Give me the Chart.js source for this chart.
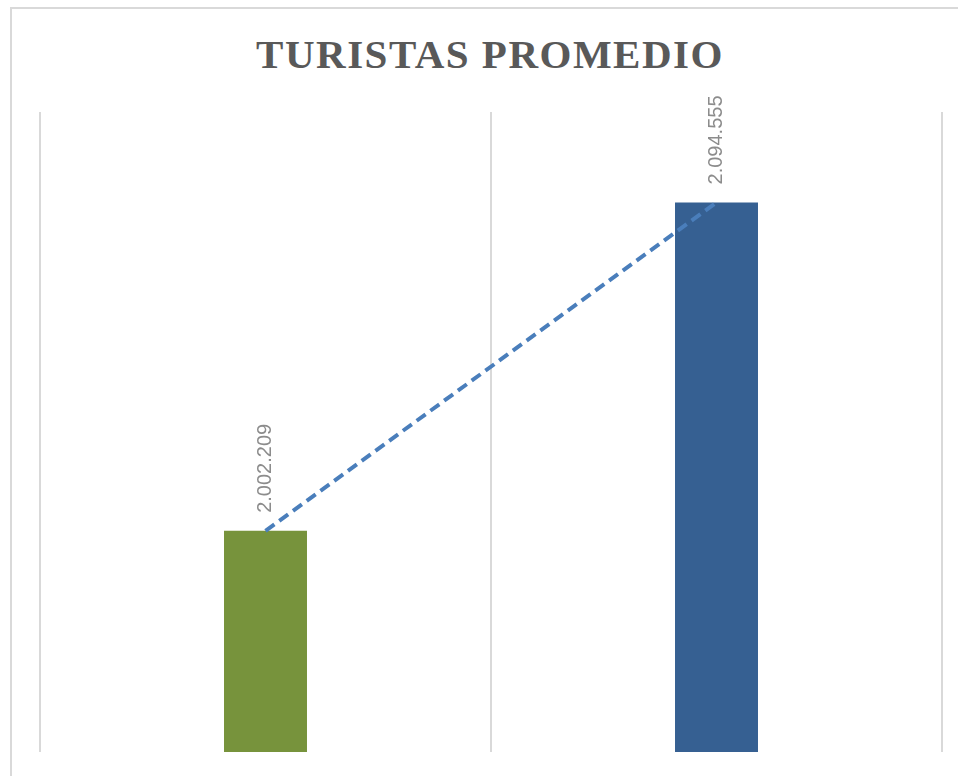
<!DOCTYPE html>
<html>
<head>
<meta charset="utf-8">
<script src="https://cdn.jsdelivr.net/npm/chart.js@4"></script>
<style>
    html, body { margin: 0; padding: 0; background: #fff; }
    #wrap { position: relative; width: 958px; height: 776px; overflow: hidden; }
    #frame {
        position: absolute; left: 10px; top: 7px; width: 960px; height: 780px;
        border-left: 2px solid #d9d9d9; border-top: 2px solid #d9d9d9;
    }
    #title {
        position: absolute; left: 0; top: 31px; width: 980px; text-align: center;
        font-family: "Liberation Serif", "DejaVu Serif", serif; font-weight: bold;
        font-size: 41px; line-height: 47px; letter-spacing: 1.5px; color: #595959; margin: 0;
    }
    canvas { position: absolute; left: 0; top: 0; }
</style>
</head>
<body>
<div id="wrap">
    <div id="frame"></div>
    <h1 id="title">TURISTAS PROMEDIO</h1>
    <canvas id="chart" width="958" height="776"></canvas>
</div>
<script>
// =========================
// DATA
// =========================
const categories = ['A', 'B'];
const turistas = [2002209, 2094555];
const barColors = ['#77933c', '#366092'];
const axisMin = 1940000;
const axisMax = 2120000;

// Spanish style thousands: 2.002.209
function fmt(v) {
    return String(v).replace(/\B(?=(\d{3})+(?!\d))/g, '.');
}

// =========================
// ROTATED VALUE LABELS
// =========================
const valueLabels = {
    id: 'valueLabels',
    afterDatasetsDraw(chart) {
        const meta = chart.getDatasetMeta(0);
        const ctx = chart.ctx;
        ctx.save();
        ctx.fillStyle = '#8c8c8c';
        ctx.font = '20px "Liberation Sans", sans-serif';
        ctx.textAlign = 'left';
        ctx.textBaseline = 'middle';
        meta.data.forEach((bar, i) => {
            ctx.save();
            ctx.translate(bar.x, bar.y - 18);
            ctx.rotate(-Math.PI / 2);
            ctx.fillText(fmt(turistas[i]), 0, 0);
            ctx.restore();
        });
        ctx.restore();
    }
};

new Chart(document.getElementById('chart'), {
    data: {
        labels: categories,
        datasets: [
            {
                type: 'line',
                data: turistas,
                borderColor: '#4a7ebb',
                borderWidth: 4,
                borderDash: [11, 6],
                pointRadius: 0,
                fill: false,
                tension: 0,
                order: 0
            },
            {
                type: 'bar',
                data: turistas,
                backgroundColor: barColors,
                barPercentage: 1,
                categoryPercentage: 0.184,
                order: 1
            }
        ]
    },
    options: {
        responsive: false,
        animation: false,
        layout: { padding: { left: 40, right: 16, top: 112, bottom: 24 } },
        plugins: {
            legend: { display: false },
            title: { display: false },
            tooltip: { enabled: false }
        },
        scales: {
            x: {
                offset: true,
                ticks: { display: false },
                border: { display: false },
                grid: { offset: true, color: '#d9d9d9', lineWidth: 2, drawTicks: false }
            },
            y: {
                display: false,
                min: axisMin,
                max: axisMax
            }
        }
    },
    plugins: [valueLabels]
});
</script>
</body>
</html>
